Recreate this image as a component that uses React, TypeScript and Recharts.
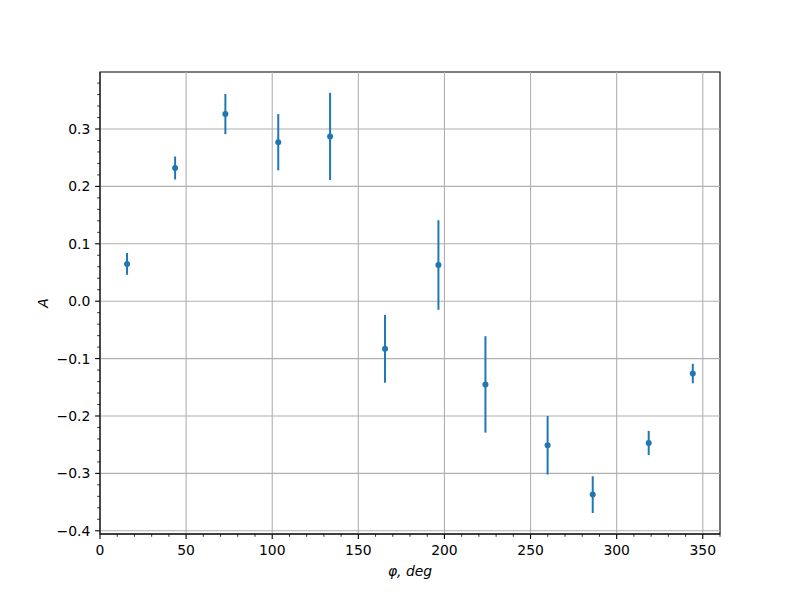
import React from 'react';
import {
  ScatterChart,
  Scatter,
  XAxis,
  YAxis,
  ErrorBar,
  ReferenceLine,
  ReferenceArea,
} from 'recharts';

// measured points: phase angle (deg), asymmetry A and its error
const phi = [15.7, 43.6, 72.8, 103.5, 133.6, 165.5, 196.5, 223.8, 259.9, 286.1, 318.6, 344.2];
const amp = [0.065, 0.232, 0.326, 0.277, 0.287, -0.083, 0.063, -0.145, -0.251, -0.337, -0.247, -0.126];
const ampErr = [0.019, 0.02, 0.035, 0.049, 0.076, 0.059, 0.078, 0.084, 0.051, 0.032, 0.021, 0.017];

const xMajorTicks = [0, 50, 100, 150, 200, 250, 300, 350];
const yMajorTicks = [-0.4, -0.3, -0.2, -0.1, 0.0, 0.1, 0.2, 0.3];
const xMinorStep = 10;
const yMinorStep = 0.02;

const X_DOMAIN: [number, number] = [0, 360];
const Y_DOMAIN: [number, number] = [-0.4056, 0.3993];

const BLUE = '#1f77b4';
const GRID = '#b0b0b0';
const FONT = 'DejaVu Sans, sans-serif';

const data = phi.map((p, i) => ({ phi: p, a: amp[i], err: ampErr[i] }));

// minor tick positions (majors are a subset)
const xTicks = Array.from({ length: 37 }, (_, i) => i * xMinorStep);
const yTicks = Array.from({ length: 40 }, (_, i) => Math.round((-0.4 + i * yMinorStep) * 100) / 100);

const isMajorY = (v: number) => Math.abs(v * 10 - Math.round(v * 10)) < 1e-6;
const fmtY = (v: number) => (v < -1e-9 ? '\u2212' + Math.abs(v).toFixed(1) : Math.abs(v).toFixed(1));

const XTick = ({ x, y, payload }: any) => {
  const v = payload.value;
  const major = v % 50 === 0;
  return (
    <g>
      <line x1={x} x2={x} y1={y} y2={y + (major ? 4.9 : 2.8)} stroke="#000" strokeWidth={major ? 1.1 : 0.8} />
      {major && (
        <text x={x} y={y + 21} textAnchor="middle" fontFamily={FONT} fontSize={13.9} fill="#000">
          {v}
        </text>
      )}
    </g>
  );
};

const YTick = ({ x, y, payload }: any) => {
  const v = payload.value;
  const major = isMajorY(v);
  return (
    <g>
      <line x1={x - (major ? 4.9 : 2.8)} x2={x} y1={y} y2={y} stroke="#000" strokeWidth={major ? 1.1 : 0.8} />
      {major && (
        <text x={x - 9.7} y={y + 5} textAnchor="end" fontFamily={FONT} fontSize={13.9} fill="#000">
          {fmtY(v)}
        </text>
      )}
    </g>
  );
};

const Dot = (props: any) => <circle cx={props.cx} cy={props.cy} r={3} fill={BLUE} />;

export default function App() {
  return (
    <div style={{ position: 'absolute', left: 0, top: 0, width: 800, height: 600, background: '#fff' }}>
      <ScatterChart width={800} height={600} margin={{ top: 72, right: 80, bottom: 0, left: 0 }}>
        <XAxis
          type="number"
          dataKey="phi"
          domain={X_DOMAIN}
          allowDataOverflow
          ticks={xTicks}
          interval={0}
          tickSize={0}
          tickMargin={0}
          tick={<XTick />}
          height={66}
          axisLine={{ stroke: '#000' }}
          label={{
            content: ({ viewBox }: any) => (
              <text
                x={viewBox.x + viewBox.width / 2}
                y={viewBox.y + 42}
                textAnchor="middle"
                fontFamily={FONT}
                fontStyle="italic"
                fontSize={13.9}
                fill="#000"
              >
                φ, deg
              </text>
            ),
          }}
        />
        <YAxis
          type="number"
          dataKey="a"
          domain={Y_DOMAIN}
          allowDataOverflow
          ticks={yTicks}
          interval={0}
          tickSize={0}
          tickMargin={0}
          tick={<YTick />}
          width={100}
          axisLine={{ stroke: '#000' }}
          label={{
            content: ({ viewBox }: any) => {
              const cx = viewBox.x + 43;
              const cy = viewBox.y + viewBox.height / 2;
              return (
                <text
                  x={cx}
                  y={cy}
                  transform={`rotate(-90 ${cx} ${cy})`}
                  textAnchor="middle"
                  dominantBaseline="central"
                  fontFamily={FONT}
                  fontStyle="italic"
                  fontSize={13.9}
                  fill="#000"
                >
                  A
                </text>
              );
            },
          }}
        />
        {xMajorTicks.map((t) => (
          <ReferenceLine key={'gx' + t} x={t} stroke={GRID} strokeWidth={1.1} />
        ))}
        {yMajorTicks.map((t) => (
          <ReferenceLine key={'gy' + t} y={t} stroke={GRID} strokeWidth={1.1} />
        ))}
        <ReferenceArea
          x1={X_DOMAIN[0]}
          x2={X_DOMAIN[1]}
          y1={Y_DOMAIN[0]}
          y2={Y_DOMAIN[1]}
          fill="none"
          fillOpacity={0}
          stroke="#000"
          strokeWidth={1.1}
        />
        <Scatter data={data} shape={<Dot />} isAnimationActive={false}>
          <ErrorBar dataKey="err" direction="y" width={0} stroke={BLUE} strokeWidth={2} isAnimationActive={false} />
        </Scatter>
      </ScatterChart>
    </div>
  );
}
